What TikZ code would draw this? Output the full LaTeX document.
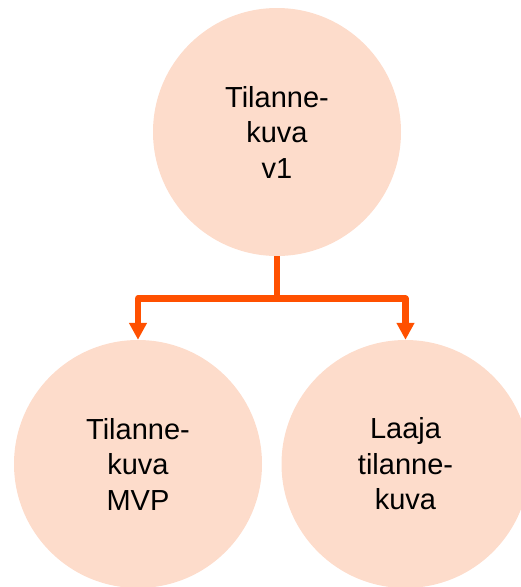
\documentclass[tikz,border=0pt]{standalone}
\usepackage{fontspec}
\setmainfont{Liberation Sans}
\usetikzlibrary{arrows.meta}
\definecolor{peach}{HTML}{FDDCCB}
\definecolor{arrowor}{HTML}{FF5000}
\begin{document}
\begin{tikzpicture}[x=1pt,y=-1pt,
  bubble/.style={circle,fill=peach,draw=none,minimum size=248pt,inner sep=0pt,
    align=center,font=\fontsize{29}{35.5}\selectfont},
  link/.style={draw=arrowor,line width=6.5pt,line join=round},
  tipped/.style={link,-{Triangle[width=17pt,length=17pt]}}]
\useasboundingbox (0,0) rectangle (521,587);
\clip (0,0) rectangle (521,587);
\node[bubble] (top) at (277,132) {Tilanne-\\kuva\\v1};
\node[bubble] (left) at (138,464) {Tilanne-\\kuva\\MVP};
\node[bubble] (right) at (405.5,464) {Laaja\\tilanne-\\kuva};
\coordinate (j) at (277,298.5);
\draw[link] (top.south) -- (j);
\draw[tipped] (j) -| (left.north);
\draw[tipped] (j) -| (right.north);
\end{tikzpicture}
\end{document}
